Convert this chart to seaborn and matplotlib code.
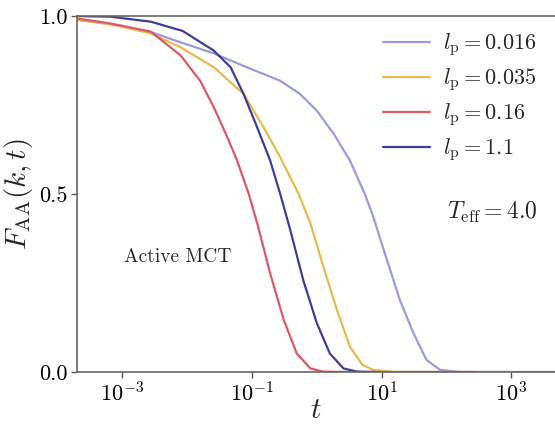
import numpy as np
import pandas as pd
import seaborn as sns
import matplotlib.pyplot as plt

# values (log10 t, F_AA)
logt_016 = [-3.7, -3.18, -2.56, -2.10, -1.59, -1.08, -0.565, -0.26, 0.0, 0.26, 0.51, 0.74,
            0.87, 1.08, 1.28, 1.49, 1.69, 1.90, 2.2, 3.7]
f_016 = [0.990, 0.977, 0.955, 0.926, 0.895, 0.856, 0.818, 0.781, 0.734, 0.669, 0.594, 0.500,
         0.436, 0.315, 0.202, 0.109, 0.034, 0.006, 0.0, 0.0]

logt_035 = [-3.7, -3.18, -2.56, -2.10, -1.59, -1.13, -0.82, -0.565, -0.28, -0.10, 0.10, 0.31,
            0.51, 0.70, 0.87, 1.2, 3.03]
f_035 = [0.989, 0.977, 0.951, 0.912, 0.856, 0.781, 0.687, 0.603, 0.500, 0.418, 0.296, 0.174,
         0.071, 0.020, 0.006, 0.0, 0.0]

logt_16 = [-3.7, -3.18, -2.56, -2.10, -1.80, -1.59, -1.38, -1.23, -1.05, -0.92, -0.72, -0.51,
           -0.31, -0.10, 0.10, 0.4, 2.44]
f_16 = [0.993, 0.979, 0.956, 0.889, 0.818, 0.744, 0.659, 0.594, 0.500, 0.418, 0.277, 0.146,
        0.052, 0.010, 0.001, 0.0, 0.0]

logt_11 = [-3.7, -3.18, -2.56, -2.07, -1.59, -1.33, -1.13, -0.92, -0.72, -0.565, -0.41, -0.21,
           0.0, 0.20, 0.41, 0.62, 0.9]
f_11 = [1.0, 0.998, 0.984, 0.958, 0.903, 0.856, 0.781, 0.687, 0.594, 0.500, 0.399, 0.258,
        0.137, 0.052, 0.010, 0.001, 0.0]

labels = [r"$l_\mathrm{p} = 0.016$", r"$l_\mathrm{p} = 0.035$",
          r"$l_\mathrm{p} = 0.16$", r"$l_\mathrm{p} = 1.1$"]
colors = ["#9a9ae0", "#e9b94b", "#db5866", "#3e3e98"]

frames = []
for lab, lt, f in zip(labels, [logt_016, logt_035, logt_16, logt_11], [f_016, f_035, f_16, f_11]):
    frames.append(pd.DataFrame({"t": 10 ** np.array(lt), "F": f, "lp": lab}))
df = pd.concat(frames, ignore_index=True)

sns.set_style("ticks")
plt.rcParams["font.family"] = "serif"
plt.rcParams["font.serif"] = ["cmr10", "DejaVu Serif"]
plt.rcParams["mathtext.fontset"] = "cm"
plt.rcParams["axes.formatter.use_mathtext"] = True

fig = plt.figure(figsize=(5.55, 4.29), dpi=100)
ax = fig.add_axes([0.1387, 0.1329, 0.8613, 0.8298])

sns.lineplot(data=df, x="t", y="F", hue="lp", palette=colors, linewidth=1.6,
             sort=False, ax=ax)
ax.set_xscale("log")
ax.set_xlim(2.0e-4, 4.7e3)
ax.set_ylim(0, 1)
ax.set_xticks([1e-3, 1e-1, 1e1, 1e3])
ax.minorticks_off()
ax.set_yticks([0, 0.5, 1.0])
ax.set_yticklabels(["0.0", "0.5", "1.0"])
ax.tick_params(labelsize=16, colors="#555555", labelcolor="black", length=4, width=1, pad=3)
for s in ["left", "bottom", "top"]:
    ax.spines[s].set_color("#666666")
    ax.spines[s].set_linewidth(1.2)
ax.spines["right"].set_visible(False)

ax.set_xlabel(r"$t$", fontsize=21, labelpad=-6)
ax.set_ylabel(r"$F_\mathrm{AA}(k,t)$", fontsize=21, labelpad=3)

ax.text(1.05e-3, 0.323, "Active MCT", fontsize=14, va="center", ha="left")
ax.text(1.0e2, 0.447, r"$T_\mathrm{eff} = 4.0$", fontsize=17, va="center", ha="left")

ax.legend(title=None, frameon=False, fontsize=16, handlelength=2.1, handletextpad=0.6,
          loc="upper left", bbox_to_anchor=(0.64, 0.957), borderaxespad=0, borderpad=0,
          labelspacing=0.36)

fig.savefig("out.png", dpi=100)
